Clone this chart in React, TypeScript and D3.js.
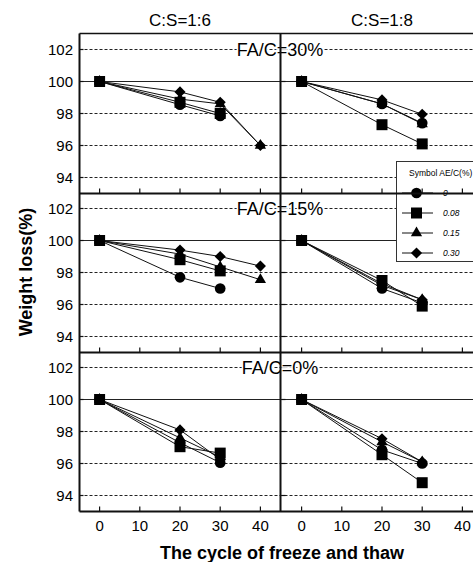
import * as d3 from "d3";

const xTicks = [0, 10, 20, 30, 40];
const yTicks = [94, 96, 98, 100, 102];
const cycles = [0, 20, 30, 40];
const aeLevels = ["0", "0.08", "0.15", "0.30"];
const csRatios = ["C:S=1:6", "C:S=1:8"];
const faLabels = ["FA/C=30%", "FA/C=15%", "FA/C=0%"];

// one row per AE/C level (circle, square, triangle, diamond), values at cycles 0, 20, 30, 40
const fa30cs6 = [[100, 98.55, 97.85], [100, 98.7, 98.0], [100, 98.9, 98.6, 96.0], [100, 99.35, 98.7, 96.0]];
const fa30cs8 = [[100, 98.6, 97.4], [100, 97.3, 96.1], [100, 98.6, 97.35], [100, 98.85, 97.95]];
const fa15cs6 = [[100, 97.7, 97.0], [100, 98.8, 98.1], [100, 99.15, 98.35, 97.55], [100, 99.4, 99.0, 98.4]];
const fa15cs8 = [[100, 97.0, 96.1], [100, 97.5, 95.9], [100, 97.2, 96.3], [100, 97.3, 96.3]];
const fa0cs6 = [[100, 97.3, 96.05], [100, 97.05, 96.65], [100, 97.6, 96.4], [100, 98.1, 96.25]];
const fa0cs8 = [[100, 96.85, 96.0], [100, 96.55, 94.8], [100, 97.35, 96.1], [100, 97.55, 96.1]];

const panels = [
  [fa30cs6, fa30cs8],
  [fa15cs6, fa15cs8],
  [fa0cs6, fa0cs8],
];

const W = 473;
const H = 562;
const colLeft = [79.5, 281.5];
const colWidth = 201;
const rowTop = [33.5, 192.5, 351.5];
const rowHeight = 160;
const font = "'Liberation Sans', Arial, sans-serif";

const diamond = {
  draw(ctx: any, size: number) {
    const r = Math.sqrt(size / 2);
    ctx.moveTo(0, -r);
    ctx.lineTo(r, 0);
    ctx.lineTo(0, r);
    ctx.lineTo(-r, 0);
    ctx.closePath();
  },
};

const symbolTypes: any[] = [d3.symbolCircle, d3.symbolSquare, d3.symbolTriangle, diamond];
const symbolSizes = [90, 121, 55, 62];
const symbolPaths = symbolTypes.map((t, i) => d3.symbol().type(t).size(symbolSizes[i])() as string);

function Panel({ row, col }: { row: number; col: number }) {
  const x = d3.scaleLinear().domain([-5, 45]).range([colLeft[col], colLeft[col] + colWidth]);
  const y = d3.scaleLinear().domain([93, 103]).range([rowTop[row] + rowHeight, rowTop[row]]);
  const data = panels[row][col];
  const line = d3
    .line<number>()
    .x((_, i) => x(cycles[i]))
    .y((v) => y(v));
  return (
    <g>
      {data.map((s, k) => (
        <path key={"l" + k} d={line(s) as string} fill="none" stroke="#111" strokeWidth={1} />
      ))}
      {data.map((s, k) =>
        s.map((v, i) => (
          <path key={"m" + k + "-" + i} d={symbolPaths[k]} transform={`translate(${x(cycles[i])},${y(v)})`} fill="#000" />
        ))
      )}
      {xTicks.map((t) => (
        <line key={"xt" + t} x1={x(t)} x2={x(t)} y1={y(93)} y2={y(93) - 5} stroke="#111" strokeWidth={1.2} />
      ))}
      {yTicks.map((t) => (
        <line key={"yt" + t} x1={x(-5)} x2={x(-5) + 4} y1={y(t)} y2={y(t)} stroke="#111" strokeWidth={1.2} />
      ))}
    </g>
  );
}

export default function App() {
  const rowScales = rowTop.map((t) => d3.scaleLinear().domain([93, 103]).range([t + rowHeight, t]));
  const x0 = d3.scaleLinear().domain([-5, 45]).range([colLeft[0], colLeft[0] + colWidth]);
  const x1 = d3.scaleLinear().domain([-5, 45]).range([colLeft[1], colLeft[1] + colWidth]);
  const legendX = 396.5;
  const legendY = 161.5;
  const legendRows = [193, 213, 233, 253];

  return (
    <svg
      width={W}
      height={H}
      viewBox={`0 0 ${W} ${H}`}
      style={{ position: "absolute", left: 0, top: 0, background: "#fff" }}
      fontFamily={font}
    >
      {/* gridlines */}
      {rowScales.map((y, r) =>
        yTicks.map((t) => (
          <line
            key={"g" + r + t}
            x1={colLeft[0]}
            x2={W}
            y1={y(t)}
            y2={y(t)}
            stroke="#222"
            strokeWidth={t === 100 ? 1.2 : 1}
            strokeDasharray={t === 100 ? undefined : "3 2"}
          />
        ))
      )}

      {/* column titles */}
      {csRatios.map((c, i) => (
        <text key={c} x={[x0, x1][i](20)} y={26} textAnchor="middle" fontSize={17}>
          {c}
        </text>
      ))}

      {/* y tick labels */}
      {rowScales.map((y, r) =>
        yTicks.map((t) => (
          <text key={"yl" + r + t} x={73} y={y(t) + 5} textAnchor="end" fontSize={15}>
            {t}
          </text>
        ))
      )}

      {/* x tick labels */}
      {[x0, x1].map((x, c) =>
        xTicks.map((t) => (
          <text key={"xl" + c + t} x={x(t)} y={531} textAnchor="middle" fontSize={15}>
            {t}
          </text>
        ))
      )}

      {/* legend */}
      <rect x={legendX} y={legendY} width={90} height={100} fill="#fff" stroke="#333" strokeWidth={1} />
      <text x={409} y={176} fontSize={8.5}>
        Symbol AE/C(%)
      </text>
      {aeLevels.map((a, k) => (
        <g key={"lg" + a}>
          <line x1={402} x2={433} y1={legendRows[k]} y2={legendRows[k]} stroke="#111" strokeWidth={1} />
          <path d={symbolPaths[k]} transform={`translate(416.5,${legendRows[k]})`} fill="#000" />
          <text x={443} y={legendRows[k] + 3} fontSize={8.5} fontStyle="italic">
            {a}
          </text>
        </g>
      ))}

      {/* data panels */}
      {panels.map((rowData, r) => rowData.map((_, c) => <Panel key={r + "-" + c} row={r} col={c} />))}

      {/* FA/C labels */}
      {faLabels.map((f, r) => (
        <text key={f} x={280} y={rowScales[r](102) + 6.5} textAnchor="middle" fontSize={18} stroke="#fff" strokeWidth={3} paintOrder="stroke">
          {f}
        </text>
      ))}

      {/* frames */}
      <line x1={colLeft[0]} x2={W} y1={rowTop[0]} y2={rowTop[0]} stroke="#111" strokeWidth={1.5} />
      {rowScales.map((y, r) => (
        <line key={"b" + r} x1={colLeft[0]} x2={W} y1={y(93)} y2={y(93)} stroke="#111" strokeWidth={2} />
      ))}
      <line x1={colLeft[0]} x2={colLeft[0]} y1={rowTop[0]} y2={rowScales[2](93)} stroke="#111" strokeWidth={2} />
      <line x1={colLeft[1] - 1} x2={colLeft[1] - 1} y1={rowTop[0]} y2={rowScales[2](93)} stroke="#111" strokeWidth={2} />

      {/* axis titles */}
      <text
        transform={`translate(32,272) rotate(-90)`}
        textAnchor="middle"
        fontSize={18}
        fontWeight="bold"
      >
        Weight loss(%)
      </text>
      <text x={282} y={559} textAnchor="middle" fontSize={18} fontWeight="bold">
        The cycle of freeze and thaw
      </text>
    </svg>
  );
}
